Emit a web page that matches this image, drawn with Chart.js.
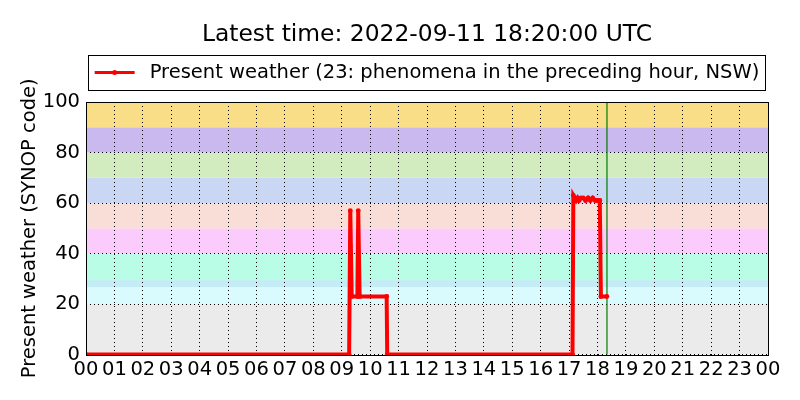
<!DOCTYPE html>
<html>
<head>
<meta charset="utf-8">
<script src="https://cdn.jsdelivr.net/npm/chart.js@4/dist/chart.umd.min.js"></script>
<style>
  body { margin: 0; background: #fff; }
  canvas { display: block; }
</style>
</head>
<body>
<canvas id="synopChart" width="800" height="400"></canvas>
<script>
// observation times (decimal hours, UTC) and present weather codes
const hours = [0, 9.26, 9.30, 9.35, 9.55, 9.58, 9.63, 10.58, 10.60,
  17.12, 17.15, 17.20, 17.25, 17.30, 17.35, 17.42, 17.50, 17.58, 17.67, 17.75, 17.83, 17.92, 18.00, 18.08, 18.12, 18.33];
const codes = [0, 0, 57, 23, 23, 57, 23, 23, 0,
  0, 63, 62, 61, 62, 61, 62, 62, 61, 62, 61, 62, 61, 61, 61, 23, 23];

const hourLabels = ['00', '01', '02', '03', '04', '05', '06', '07', '08', '09', '10', '11',
  '12', '13', '14', '15', '16', '17', '18', '19', '20', '21', '22', '23', '00'];
const yTicks = [0, 20, 40, 60, 80, 100];

// SYNOP code groups painted behind the plot
const bandLimits = [0, 20, 26.7, 29.5, 40, 50, 60, 70, 80, 90, 100];
const bandColors = ['#ebebeb', '#dafbfe', '#c4ecf4', '#b9fde6', '#fbcbfb', '#f8ded6',
  '#c9d7f5', '#d2ecc0', '#c9b9ee', '#f9de87'];

const latestHour = 18 + 20 / 60;
const titleText = 'Latest time: 2022-09-11 18:20:00 UTC';
const seriesLabel = 'Present weather (23: phenomena in the preceding hour, NSW)';
const FONT = '"DejaVu Sans", sans-serif';

const bgPlugin = {
  id: 'bgPlugin',
  beforeDraw(chart) {
    const { ctx, chartArea, scales } = chart;
    ctx.save();
    for (let i = 0; i < bandColors.length; i++) {
      const yTop = scales.y.getPixelForValue(bandLimits[i + 1]);
      const yBot = scales.y.getPixelForValue(bandLimits[i]);
      ctx.fillStyle = bandColors[i];
      ctx.fillRect(chartArea.left, yTop, chartArea.right - chartArea.left, yBot - yTop);
    }
    ctx.restore();
  },
  beforeDatasetsDraw(chart) {
    const { ctx, chartArea, scales } = chart;
    const x = scales.x.getPixelForValue(latestHour);
    ctx.save();
    ctx.strokeStyle = '#007a00';
    ctx.lineWidth = 1.2;
    ctx.beginPath();
    ctx.moveTo(x, chartArea.top);
    ctx.lineTo(x, chartArea.bottom);
    ctx.stroke();
    ctx.restore();
  },
  afterDraw(chart) {
    const { ctx, chartArea } = chart;
    const cx = (chartArea.left + chartArea.right) / 2;
    ctx.save();
    // frame
    ctx.strokeStyle = '#000';
    ctx.lineWidth = 1;
    ctx.setLineDash([]);
    ctx.strokeRect(Math.round(chartArea.left) + 0.5, Math.round(chartArea.top) + 0.5,
      Math.round(chartArea.right - chartArea.left), Math.round(chartArea.bottom - chartArea.top));

    // title
    ctx.fillStyle = '#000';
    ctx.font = '23.4px ' + FONT;
    ctx.textAlign = 'center';
    ctx.textBaseline = 'middle';
    ctx.fillText(titleText, cx, 35);

    // legend box
    ctx.font = '19.5px ' + FONT;
    const textW = ctx.measureText(seriesLabel).width;
    const itemW = 40 + 15 + textW;
    const bx = cx - itemW / 2;
    ctx.fillStyle = '#fff';
    ctx.fillRect(88, 55, chartArea.right - 90, 35);
    ctx.strokeRect(88.5, 55.5, chartArea.right - 91, 35);
    ctx.strokeStyle = '#ff0000';
    ctx.lineWidth = 3;
    ctx.beginPath();
    ctx.moveTo(bx, 72.5);
    ctx.lineTo(bx + 40, 72.5);
    ctx.stroke();
    ctx.fillStyle = '#ff0000';
    ctx.beginPath();
    ctx.arc(bx + 20, 72.5, 2.5, 0, Math.PI * 2);
    ctx.fill();
    ctx.fillStyle = '#000';
    ctx.textAlign = 'left';
    ctx.fillText(seriesLabel, bx + 55, 72.5);
    ctx.restore();
  }
};

new Chart(document.getElementById('synopChart'), {
  type: 'line',
  data: {
    datasets: [{
      label: seriesLabel,
      data: hours.map((h, i) => ({ x: h, y: codes[i] })),
      borderColor: '#ff0000',
      backgroundColor: '#ff0000',
      borderWidth: 4,
      pointRadius: 2.4,
      pointBorderWidth: 0,
      tension: 0,
      clip: { left: 0, top: 0, right: 0, bottom: 1 }
    }]
  },
  options: {
    responsive: false,
    animation: false,
    devicePixelRatio: 1,
    layout: { padding: { top: 102, right: 32, bottom: 14, left: 16 } },
    plugins: {
      legend: { display: false },
      title: { display: false },
      tooltip: { enabled: false }
    },
    scales: {
      x: {
        type: 'linear',
        min: 0,
        max: 24,
        afterBuildTicks: axis => { axis.ticks = hourLabels.map((_, i) => ({ value: i })); },
        ticks: {
          autoSkip: false,
          maxRotation: 0,
          padding: 4,
          color: '#000',
          font: { family: FONT, size: 19.5 },
          callback: v => hourLabels[v]
        },
        grid: { color: '#000', lineWidth: 1, drawTicks: false },
        border: { display: false, dash: [1, 3] }
      },
      y: {
        min: 0,
        max: 100,
        afterBuildTicks: axis => { axis.ticks = yTicks.map(v => ({ value: v })); },
        afterFit: axis => { axis.width = 70; },
        ticks: {
          padding: 6,
          color: '#000',
          font: { family: FONT, size: 19.5 }
        },
        title: {
          display: true,
          text: 'Present weather (SYNOP code)',
          color: '#000',
          font: { family: FONT, size: 19.5 },
          padding: { top: 2, bottom: 2 }
        },
        grid: { color: '#000', lineWidth: 1, drawTicks: false },
        border: { display: false, dash: [1, 3] }
      }
    }
  },
  plugins: [bgPlugin]
});
</script>
</body>
</html>
